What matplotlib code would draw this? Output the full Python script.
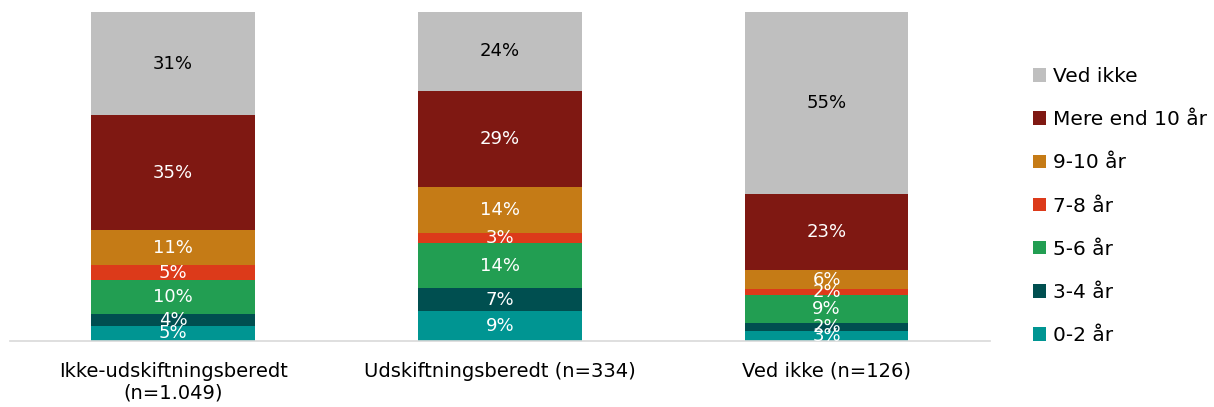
import numpy as np
import matplotlib.pyplot as plt
from matplotlib.patches import Patch

plt.rcParams['font.family'] = ['DejaVu Sans']

categories = ["Ikke-udskiftningsberedt\n(n=1.049)", "Udskiftningsberedt (n=334)", "Ved ikke (n=126)"]
series = ["0-2 år", "3-4 år", "5-6 år", "7-8 år", "9-10 år", "Mere end 10 år", "Ved ikke"]
# percent per series (bottom to top), one value per category
v_0_2 = [4.6, 9.1, 3.0]
v_3_4 = [3.6, 7.0, 2.4]
v_5_6 = [10.3, 13.7, 8.6]
v_7_8 = [4.6, 3.0, 1.8]
v_9_10 = [10.6, 14.0, 5.8]
v_10plus = [35.0, 29.2, 23.0]
v_vedikke = [31.3, 24.0, 55.4]
values = [v_0_2, v_3_4, v_5_6, v_7_8, v_9_10, v_10plus, v_vedikke]

colors = ["#009592", "#004F50", "#229E52", "#DC3A1A", "#C57B16", "#7F1812", "#BFBFBF"]
txtcol = ["white"] * 6 + ["black"]

fig = plt.figure(figsize=(12.14, 4.07), dpi=100)
ax = fig.add_axes([0.008, 0.162, 0.8075, 0.8085])

x = np.arange(len(categories))
bottom = np.zeros(len(categories))
for vals, c, tc in zip(values, colors, txtcol):
    vals = np.array(vals)
    ax.bar(x, vals, 0.5, bottom=bottom, color=c, edgecolor='none')
    for xi, b, v in zip(x, bottom, vals):
        ax.text(xi, b + v / 2, f"{v:.0f}%", ha='center', va='center', color=tc, fontsize=13)
    bottom += vals

ax.set_xlim(-0.5, 2.5)
ax.set_ylim(0, 100)
for s in ['top', 'right', 'left']:
    ax.spines[s].set_visible(False)
ax.spines['bottom'].set_color('#D9D9D9')
ax.spines['bottom'].set_linewidth(1.2)
ax.set_yticks([])
ax.set_xticks(x)
ax.set_xticklabels(categories, fontsize=14)
ax.tick_params(axis='x', length=0, pad=15)

handles = [Patch(facecolor=c, edgecolor='none') for c in colors][::-1]
fig.legend(handles, series[::-1], loc='upper left', bbox_to_anchor=(0.844, 0.855),
           frameon=False, fontsize=14.5, handlelength=0.65, handleheight=0.65,
           handletextpad=0.35, labelspacing=1.2, borderaxespad=0)

fig.savefig("out.png", dpi=100)
